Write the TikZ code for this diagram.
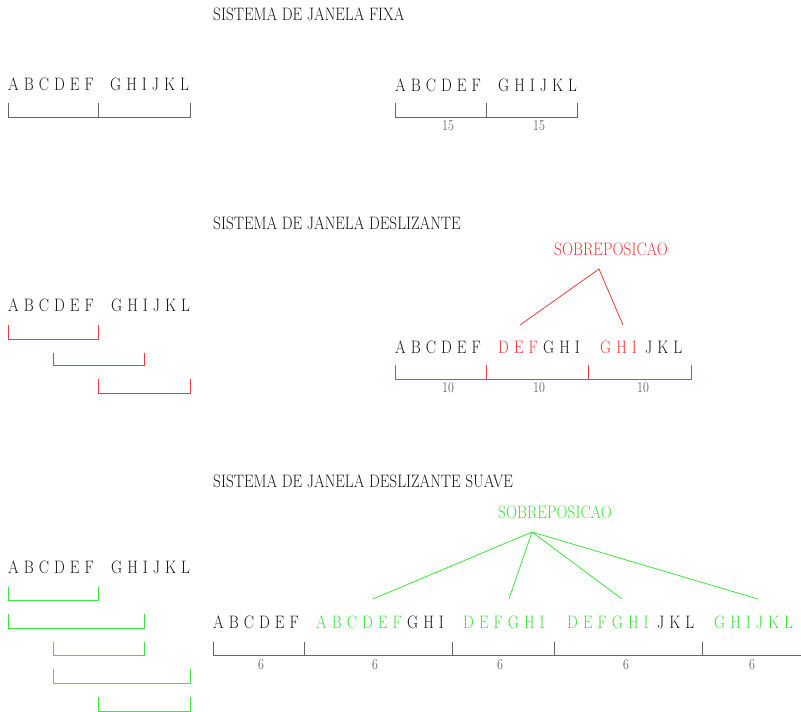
\documentclass[tikz,border=0pt]{standalone}
\usepackage{graphicx}
\definecolor{rd}{RGB}{240,60,60}
\definecolor{gn}{RGB}{60,230,60}
\newcommand{\sx}[1]{\scalebox{0.85}[1]{#1}}
\newcommand{\ltsp}{\spaceskip=5.9pt\relax}
\tikzset{
  txt/.style={inner sep=0pt, anchor=base west, font=\fontsize{18}{20}\selectfont, text=black!90},
  lt/.style={txt, font=\fontsize{18}{20}\selectfont\ltsp},
  num/.style={inner sep=0pt, anchor=center, font=\fontsize{15}{17}\selectfont, text=black!70},
  bar/.style={draw=black!60, line width=0.8pt},
  rbar/.style={draw=rd, line width=0.8pt},
  gbar/.style={draw=gn, line width=0.8pt},
}
\begin{document}
\begin{tikzpicture}[x=1pt,y=-1pt]
\useasboundingbox (0,0) rectangle (801,712);
% titles
\node[txt] (t1) at (213,20) {\sx{SISTEMA DE JANELA FIXA}};
\node[txt] (t2) at (213,229) {\sx{SISTEMA DE JANELA DESLIZANTE}};
\node[txt] (t3) at (213,487) {\sx{SISTEMA DE JANELA DESLIZANTE SUAVE}};
% ---- fixed window
\node[lt] (f1a) at (8,90) {\sx{A B C D E F}};
\node[lt] (f1b) at (110,90) {\sx{G H I J K L}};
\draw[bar] (8,103) -- (8,117) -- (190,117) -- (190,103) (98,103) -- (98,117);
\node[lt] (f2a) at (395,91) {\sx{A B C D E F}};
\node[lt] (f2b) at (498,91) {\sx{G H I J K L}};
\draw[bar] (395,103) -- (395,117) -- (577,117) -- (577,103) (486,103) -- (486,117);
\node[num] (n15a) at (448,126) {\sx{15}};
\node[num] (n15b) at (539,126) {\sx{15}};
% ---- sliding window
\node[lt] (s1a) at (8,311) {\sx{A B C D E F}};
\node[lt] (s1b) at (111,311) {\sx{G H I J K L}};
\draw[rbar] (8,325) -- (8,339) -- (98,339) -- (98,325);
\draw[rbar] (53,353) -- (53,365) -- (144,365) -- (144,353);
\draw[rbar] (98,379) -- (98,393) -- (190,393) -- (190,379);
\node[lt] (s2a) at (395,353) {\sx{A B C D E F}};
\node[lt,text=rd] (s2b) at (498,353) {\sx{D E F}};
\node[lt] (s2c) at (543,353) {\sx{G H I}};
\node[lt,text=rd] (s2d) at (600,353) {\sx{G H I}};
\node[lt] (s2e) at (645,353) {\sx{J K L}};
\draw[rbar] (395,365) -- (395,379) -- (691,379) -- (691,365) (486,365) -- (486,379) (588,365) -- (588,379);
\node[num] (n10a) at (448,388) {\sx{10}};
\node[num] (n10b) at (539,388) {\sx{10}};
\node[num] (n10c) at (643,388) {\sx{10}};
\node[txt,text=rd] (sobR) at (554,255) {\sx{SOBREPOSICAO}};
\coordinate (apR) at (599,269);
\coordinate (eR1) at (520,325);
\coordinate (eR2) at (623,325);
\draw[rbar] (eR1) -- (apR) -- (eR2);
% ---- smooth sliding window
\node[lt] (u1a) at (8,573) {\sx{A B C D E F}};
\node[lt] (u1b) at (111,573) {\sx{G H I J K L}};
\draw[gbar] (8,587) -- (8,600) -- (98,600) -- (98,587);
\draw[gbar] (8,614) -- (8,628) -- (144,628) -- (144,614);
\draw[gbar] (53,642) -- (53,655) -- (144,655) -- (144,642);
\draw[gbar] (53,669) -- (53,683) -- (190,683) -- (190,669);
\draw[gbar] (98,697) -- (98,711) -- (190,711) -- (190,697);
\node[lt] (u2a) at (213,628) {\sx{A B C D E F}};
\node[lt,text=gn] (u2b) at (316,628) {\sx{A B C D E F}};
\node[lt] (u2c) at (407,628) {\sx{G H I}};
\node[lt,text=gn] (u2d) at (463,628) {\sx{D E F G H I}};
\node[lt,text=gn] (u2e) at (567,628) {\sx{D E F G H I}};
\node[lt] (u2f) at (657,628) {\sx{J K L}};
\node[lt,text=gn] (u2g) at (714,628) {\sx{G H I J K L}};
\draw[bar] (213,642) -- (213,655) -- (801,655) (304,642) -- (304,655) (452,642) -- (452,655) (554,642) -- (554,655) (702,642) -- (702,655);
\node[num] (n6a) at (261,665) {\sx{6}};
\node[num] (n6b) at (375,665) {\sx{6}};
\node[num] (n6c) at (500,665) {\sx{6}};
\node[num] (n6d) at (626,665) {\sx{6}};
\node[num] (n6e) at (752,665) {\sx{6}};
\node[txt,text=gn] (sobG) at (498,518) {\sx{SOBREPOSICAO}};
\coordinate (apG) at (532,532);
\coordinate (eG1) at (373,599);
\coordinate (eG2) at (509,599);
\coordinate (eG3) at (622,599);
\coordinate (eG4) at (758,599);
\draw[gbar] (apG) -- (eG1) (apG) -- (eG2) (apG) -- (eG3) (apG) -- (eG4);
\end{tikzpicture}
\end{document}
